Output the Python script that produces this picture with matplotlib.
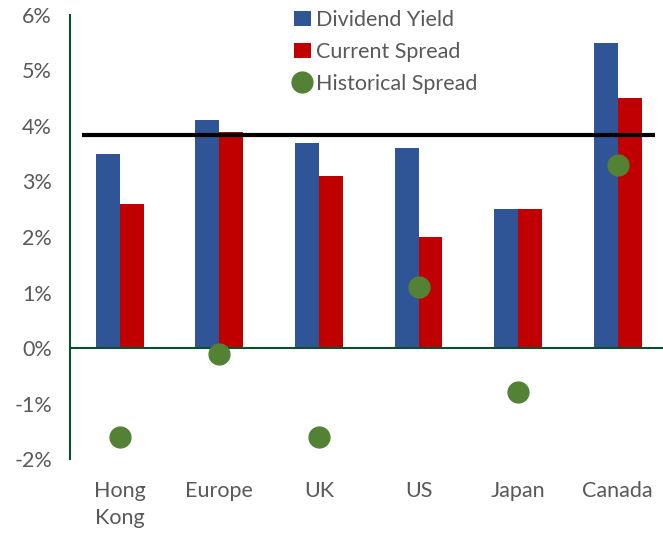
import matplotlib.pyplot as plt
from matplotlib.ticker import FuncFormatter

plt.rcParams['font.family'] = ['Lato', 'DejaVu Sans']

regions = ["Hong\nKong", "Europe", "UK", "US", "Japan", "Canada"]
dividend_yield = [3.5, 4.1, 3.7, 3.6, 2.5, 5.5]
current_spread = [2.6, 3.9, 3.1, 2.0, 2.5, 4.5]
historical_spread = [-1.6, -0.1, -1.6, 1.1, -0.8, 3.3]
avg_level = 3.83

blue = "#2F5597"
red = "#C00000"
green = "#548235"
axis_col = "#0B4F2E"
grey = "#595959"

fig = plt.figure(figsize=(6.63, 5.33), dpi=100)
ax = fig.add_axes([0.1056, 0.1388, 0.8944, 0.8331])

x = list(range(len(regions)))
w = 0.24
b1 = ax.bar([i - w / 2 for i in x], dividend_yield, w, color=blue, label="Dividend Yield", zorder=2)
b2 = ax.bar([i + w / 2 for i in x], current_spread, w, color=red, label="Current Spread", zorder=2)
dots, = ax.plot(x, historical_spread, 'o', ms=15, color=green, label="Historical Spread", zorder=4)

# long-run level line across the groups
ax.plot([-0.38, 5.37], [avg_level, avg_level], color="black", lw=3, zorder=3, solid_capstyle="butt")

ax.axhline(0, color=axis_col, lw=1.5, zorder=3)

ax.set_xlim(-0.5, 5.455)
ax.set_ylim(-2, 6)
ax.set_yticks(range(-2, 7))
ax.yaxis.set_major_formatter(FuncFormatter(lambda v, p: f"{int(v)}%"))
ax.set_xticks(x)
ax.set_xticklabels(regions, linespacing=1.45)

for s in ["top", "right", "bottom"]:
    ax.spines[s].set_visible(False)
ax.spines["left"].set_color(axis_col)
ax.spines["left"].set_linewidth(1.5)

ax.tick_params(axis="y", length=0, pad=13, labelsize=15.5, labelcolor=grey)
ax.tick_params(axis="x", length=0, pad=16, labelsize=15.5, labelcolor=grey)

leg = ax.legend(handles=[b1, b2, dots], loc="upper left", bbox_to_anchor=(0.353, 1.045),
                frameon=False, fontsize=15.5, handlelength=0.75, handletextpad=0.25,
                labelspacing=0.55, labelcolor=grey, borderpad=0.2)

fig.savefig("out.png", dpi=100)
